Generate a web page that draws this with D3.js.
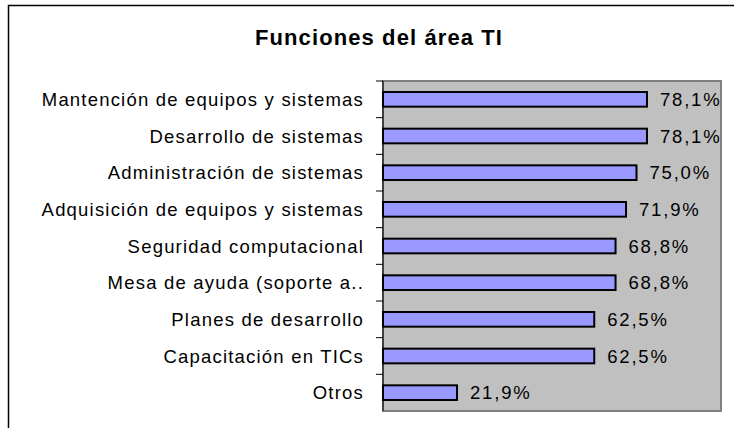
<!DOCTYPE html>
<html>
<head>
<meta charset="utf-8">
<title>Funciones del área TI</title>
<script src="https://cdn.jsdelivr.net/npm/d3@7"></script>
<style>
  body { margin: 0; background: #fff; }
  text { font-family: Arial, "Liberation Sans", sans-serif; fill: #000; }
</style>
</head>
<body>
<script>
// data
const categories = [
  "Mantención de equipos y sistemas",
  "Desarrollo de sistemas",
  "Administración de sistemas",
  "Adquisición de equipos y sistemas",
  "Seguridad computacional",
  "Mesa de ayuda (soporte a..",
  "Planes de desarrollo",
  "Capacitación en TICs",
  "Otros"
];
const values = [78.1, 78.1, 75.0, 71.9, 68.8, 68.8, 62.5, 62.5, 21.9];
const labels = ["78,1%", "78,1%", "75,0%", "71,9%", "68,8%", "68,8%", "62,5%", "62,5%", "21,9%"];

const W = 734, H = 428;
const plot = {left: 383, right: 721, top: 81, bottom: 411};

const svg = d3.select("body").append("svg")
  .attr("width", W).attr("height", H);

// outer chart border (runs off the right/bottom of the crop)
svg.append("rect")
  .attr("x", 8.5).attr("y", 5.5)
  .attr("width", W).attr("height", H)
  .attr("fill", "none").attr("stroke", "#000").attr("stroke-width", 1.5);

svg.append("text")
  .attr("x", 379).attr("y", 45)
  .attr("text-anchor", "middle")
  .style("font-size", "22px").style("font-weight", "bold")
  .style("letter-spacing", "1.1px")
  .text("Funciones del área TI");

const x = d3.scaleLinear().domain([0, 100]).range([plot.left, plot.right]);
const y = d3.scaleBand().domain(categories).range([plot.top, plot.bottom])
  .paddingInner(0.6).paddingOuter(0.3);
const band = d3.scaleBand().domain(categories).range([plot.top, plot.bottom]);

// plot area
svg.append("rect")
  .attr("x", plot.left).attr("y", plot.top)
  .attr("width", plot.right - plot.left).attr("height", plot.bottom - plot.top)
  .attr("fill", "#c0c0c0").attr("stroke", "#808080").attr("stroke-width", 2);

// category axis with ticks between categories
const g = svg.append("g");
g.append("line")
  .attr("x1", plot.left).attr("x2", plot.left)
  .attr("y1", plot.top).attr("y2", plot.bottom)
  .attr("stroke", "#000").attr("stroke-width", 1);
g.selectAll("line.tick")
  .data(categories)
  .join("line").attr("class", "tick")
  .attr("x1", plot.left - 7).attr("x2", plot.left)
  .attr("y1", d => band(d))
  .attr("y2", d => band(d))
  .attr("stroke", "#000");

g.selectAll("text.cat")
  .data(categories)
  .join("text").attr("class", "cat")
  .attr("x", 364)
  .attr("y", d => band(d) + band.bandwidth() / 2)
  .attr("dy", "0.36em")
  .attr("text-anchor", "end")
  .style("font-size", "18.5px")
  .style("letter-spacing", "1.2px")
  .text(d => d);

// bars
svg.selectAll("rect.bar")
  .data(values)
  .join("rect").attr("class", "bar")
  .attr("x", x(0))
  .attr("y", (d, i) => y(categories[i]))
  .attr("width", d => x(d) - x(0))
  .attr("height", y.bandwidth())
  .attr("fill", "#9999ff")
  .attr("stroke", "#000").attr("stroke-width", 2);

svg.selectAll("text.val")
  .data(values)
  .join("text").attr("class", "val")
  .attr("x", d => x(d) + 13)
  .attr("y", (d, i) => band(categories[i]) + band.bandwidth() / 2)
  .attr("dy", "0.36em")
  .style("font-size", "18.5px")
  .style("letter-spacing", "1.8px")
  .text((d, i) => labels[i]);
</script>
</body>
</html>
